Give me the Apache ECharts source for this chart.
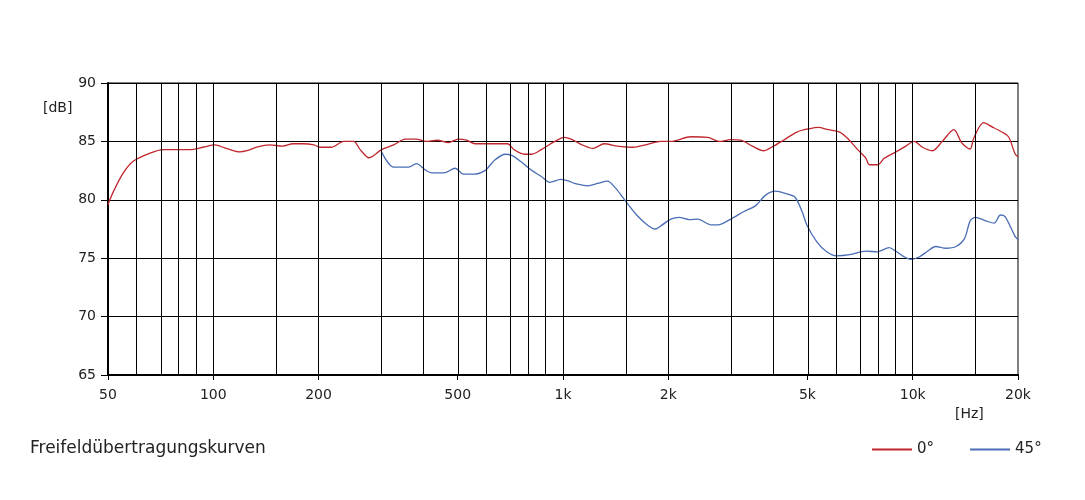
<!DOCTYPE html>
<html>
<head>
<meta charset="utf-8">
<script src="https://cdn.jsdelivr.net/npm/echarts@6/dist/echarts.min.js"></script>
<style>html,body{margin:0;padding:0;background:#fff}#c{width:1085px;height:500px}</style>
</head>
<body>
<div id="c"></div>
<script>
// Frequencies (Hz) and levels (dB)
var freq0 = [50, 51.8, 55.3, 59, 66, 72, 85.6, 93.5, 101, 109, 119, 124.8, 133, 145, 158, 169, 181, 194, 202, 218, 236, 252, 263, 279, 303, 328, 354, 381, 404, 437, 470, 502, 530, 561, 604, 694, 724, 775, 811, 867, 948, 1008, 1055, 1126, 1217, 1312, 1432, 1580, 1743, 1904, 2034, 2322, 2593, 2796, 3018, 3222, 3477, 3750, 4002, 4271, 4661, 5087, 5371, 5733, 6180, 6520, 6959, 7350, 7513, 7933, 8290, 8951, 9560, 10094, 10660, 11380, 12150, 13110, 13830, 14600, 14930, 15950, 16850, 17990, 18790, 19640, 20000];
var db0 = [79.6, 80.7, 82.3, 83.3, 84.0, 84.3, 84.3, 84.5, 84.7, 84.4, 84.1, 84.2, 84.5, 84.7, 84.6, 84.8, 84.8, 84.7, 84.5, 84.5, 85.0, 85.0, 84.3, 83.6, 84.3, 84.7, 85.2, 85.2, 85.0, 85.1, 84.9, 85.2, 85.1, 84.8, 84.8, 84.8, 84.3, 83.9, 83.9, 84.3, 85.0, 85.35, 85.2, 84.75, 84.4, 84.8, 84.6, 84.5, 84.75, 85.0, 85.0, 85.4, 85.35, 85.0, 85.15, 85.1, 84.6, 84.2, 84.6, 85.1, 85.8, 86.1, 86.2, 86.0, 85.8, 85.25, 84.3, 83.55, 83.0, 83.0, 83.55, 84.1, 84.6, 85.0, 84.5, 84.2, 85.0, 86.0, 84.85, 84.35, 85.25, 86.6, 86.25, 85.8, 85.4, 83.9, 83.7];
var freq45 = [303, 328, 362, 381, 404, 421, 456, 492, 519, 555, 598, 638, 684, 713, 756, 811, 867, 917, 986, 1041, 1078, 1177, 1256, 1340, 1414, 1508, 1624, 1743, 1835, 1922, 2034, 2146, 2295, 2427, 2653, 2774, 3018, 3294, 3556, 3794, 4046, 4366, 4612, 4826, 4980, 5320, 5675, 6056, 6606, 7350, 7933, 8563, 8951, 9350, 9873, 10430, 11020, 11640, 12440, 13300, 14070, 14600, 15130, 16180, 17090, 17810, 18370, 19640, 20000];
var db45 = [84.1, 82.8, 82.8, 83.1, 82.55, 82.3, 82.3, 82.7, 82.2, 82.2, 82.5, 83.4, 83.9, 83.8, 83.3, 82.55, 82.0, 81.5, 81.75, 81.6, 81.4, 81.2, 81.4, 81.6, 81.0, 79.9, 78.7, 77.85, 77.5, 77.85, 78.35, 78.5, 78.3, 78.35, 77.85, 77.85, 78.35, 79.0, 79.5, 80.4, 80.75, 80.5, 80.2, 79.0, 77.85, 76.4, 75.55, 75.2, 75.3, 75.6, 75.55, 75.9, 75.6, 75.2, 74.9, 75.1, 75.6, 76.0, 75.85, 76.0, 76.7, 78.2, 78.5, 78.2, 78.0, 78.7, 78.55, 76.85, 76.6];
var gridFreqs = [60, 70, 80, 90, 100, 150, 200, 300, 400, 500, 600, 700, 800, 900, 1000, 1500, 2000, 3000, 4000, 5000, 6000, 7000, 8000, 9000, 10000, 15000];
var labelFreqs = [50, 100, 200, 500, 1000, 2000, 5000, 10000, 20000];
var seriesNames = ['0°', '45°'];

function toXY(fs, ds) { return fs.map(function (f, i) { return [Math.log10(f), ds[i]]; }); }
function fmt(v) {
  var f = Math.round(Math.pow(10, v));
  return f >= 1000 ? (f / 1000) + 'k' : String(f);
}
var font = 'DejaVu Sans';
var chart = echarts.init(document.getElementById('c'), null, { renderer: 'canvas' });
chart.setOption({
  animation: false,
  backgroundColor: '#ffffff',
  title: {
    text: 'Freifeldübertragungskurven', left: 25, top: 435,
    textStyle: { fontFamily: font, fontSize: 17, fontWeight: 'normal', color: '#222' }
  },
  legend: {
    data: seriesNames, left: 867, top: 437, itemWidth: 40, itemHeight: 2, itemGap: 36, icon: 'rect',
    textStyle: { fontFamily: font, fontSize: 15, color: '#222' }
  },
  graphic: [
    { type: 'text', left: 43, top: 101, style: { text: '[dB]', font: '14px "DejaVu Sans"', fill: '#222' } },
    { type: 'text', left: 955, top: 407, style: { text: '[Hz]', font: '14px "DejaVu Sans"', fill: '#222' } }
  ],
  grid: { left: 108, right: 67, top: 83, bottom: 125, show: true, borderColor: '#000', borderWidth: 1 },
  xAxis: {
    type: 'value', min: Math.log10(50), max: Math.log10(20000),
    axisLine: { show: true, onZero: false, lineStyle: { color: '#000', width: 2 } },
    axisTick: { show: true, length: 5, customValues: labelFreqs.map(Math.log10), lineStyle: { color: '#000' } },
    axisLabel: { customValues: labelFreqs.map(Math.log10), formatter: fmt, fontFamily: font, fontSize: 14, color: '#222', margin: 13 },
    splitLine: { show: false }
  },
  yAxis: {
    type: 'value', min: 65, max: 90, interval: 5,
    axisLine: { show: true, lineStyle: { color: '#000', width: 2 } },
    axisTick: { show: true, length: 7, lineStyle: { color: '#000' } },
    axisLabel: { fontFamily: font, fontSize: 14, color: '#222', margin: 12 },
    splitLine: { show: true, lineStyle: { color: '#000', width: 1 } }
  },
  series: [
    {
      name: seriesNames[0], type: 'line', data: toXY(freq0, db0), showSymbol: false, smooth: 0.3,
      lineStyle: { color: '#c0272d', width: 1.3 }, itemStyle: { color: '#c0272d' },
      markLine: {
        silent: true, symbol: 'none', label: { show: false },
        lineStyle: { color: '#000', width: 1, type: 'solid' },
        data: gridFreqs.map(function (f) { return { xAxis: Math.log10(f) }; })
      },
      z: 3
    },
    {
      name: seriesNames[1], type: 'line', data: toXY(freq45, db45), showSymbol: false, smooth: 0.3,
      lineStyle: { color: '#4a6db5', width: 1.3 }, itemStyle: { color: '#4a6db5' }, z: 3
    }
  ]
});
</script>
</body>
</html>
